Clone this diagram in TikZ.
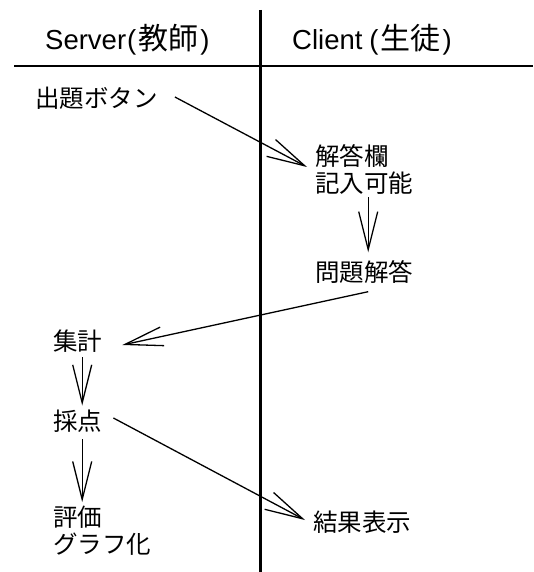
\documentclass[tikz,border=0pt]{standalone}
\usepackage{fontspec}
\setmainfont{Liberation Sans}
\newfontfamily\jp{Noto Sans CJK JP}
\usetikzlibrary{arrows.meta}
\newcommand{\hj}[1]{{\jp\fontsize{30}{30}\selectfont #1}}
\tikzset{
  lbl/.style={inner sep=0pt, anchor=west, align=left, font=\jp\fontsize{24.5}{27}\selectfont},
  hdr/.style={inner sep=0pt, anchor=west, font=\fontsize{27.5}{30}\selectfont},
  arr/.style={line width=1.3pt, -{Straight Barb[length=38pt,width=19pt,line width=1.3pt]}},
  lane/.style={line width=3pt},
  rule/.style={line width=2pt}
}
\begin{document}
\begin{tikzpicture}[x=1pt,y=-1pt]
\useasboundingbox[fill=white] (0,0) rectangle (533,572);
\coordinate (vt) at (260,10);
\coordinate (vb) at (260,572);
\coordinate (hl) at (14,66);
\coordinate (hr) at (533,66);
\draw[lane] (vt) -- (vb);
\draw[rule] (hl) -- (hr);
\node[hdr] (hs) at (45,40) {Server\hspace{1pt}(\hspace{2pt}\hj{教師}\hspace{2pt})};
\node[hdr] (hc) at (292,40) {Client\hspace{7pt}(\hspace{2pt}\hj{生徒}\hspace{2pt})};
\node[lbl] (q) at (35,98) {出題ボタン};
\node[lbl] (a) at (315,169) {解答欄\\記入可能};
\node[lbl] (p) at (315,272) {問題解答};
\node[lbl] (s) at (53,341) {集計};
\node[lbl] (t) at (53,421) {採点};
\node[lbl] (e) at (53,531) {評価\\グラフ化};
\node[lbl] (r) at (313,522) {結果表示};
\draw[arr] ([xshift=17pt,yshift=1pt]q.east) -- ([xshift=-8pt,yshift=2pt]a.west);
\draw[arr] ([xshift=4pt,yshift=-3pt]a.south) -- ([xshift=4pt,yshift=8pt]p.north);
\draw[arr] ([xshift=4pt,yshift=-8pt]p.south) -- ([xshift=20pt,yshift=-4pt]s.east);
\draw[arr] ([xshift=4.5pt,yshift=-5pt]s.south) -- ([xshift=4.5pt,yshift=4pt]t.north);
\draw[arr] ([xshift=4.5pt,yshift=-7pt]t.south) -- ([xshift=-20pt,yshift=4pt]e.north);
\draw[arr] ([xshift=11pt,yshift=3pt]t.east) -- ([xshift=-8pt,yshift=2pt]r.west);
\end{tikzpicture}
\end{document}
